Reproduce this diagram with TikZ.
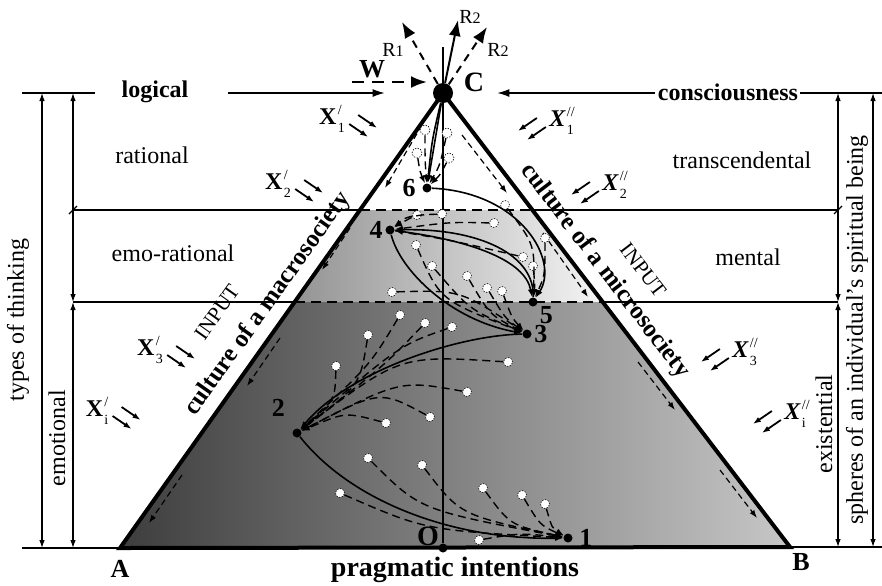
\documentclass[tikz,border=0pt]{standalone}
\usepackage{fontspec}
\setmainfont{Liberation Serif}
\usetikzlibrary{arrows.meta,positioning}

\newcommand{\xidx}[2]{\kern0.6pt\raisebox{-4pt}{\fontsize{7}{7}\selectfont\shortstack[l]{#1\\[1.5pt]#2}}}

\tikzset{
  zone/.style={font=\fontsize{12}{14}\selectfont},
  head/.style={font=\fontsize{12}{14}\selectfont\bfseries},
  num/.style={font=\fontsize{13}{14}\selectfont\bfseries,inner sep=1pt},
  thinline/.style={line width=0.6pt},
  dimline/.style={line width=0.6pt,<->},
  bandline/.style={line width=1pt,dash pattern=on 5pt off 3pt},
  edgeline/.style={line width=2pt},
  route/.style={line width=0.8pt,->},
  fan/.style={line width=0.7pt,dash pattern=on 4pt off 2.5pt,->},
  sidearr/.style={line width=0.6pt,dash pattern=on 3pt off 2pt,->},
  xarr/.style={line width=0.9pt,->},
  toparr/.style={line width=1.2pt,-{Latex[length=8pt,width=6pt]}},
  bdot/.style={circle,fill=black,inner sep=0pt,minimum size=4.5pt},
  wdot/.style={circle,fill=white,draw=black,line width=0.3pt,dash pattern=on 0.7pt off 0.7pt,inner sep=0pt,minimum size=4.5pt},
  xlab/.style={font=\fontsize{12}{14}\selectfont,inner sep=0pt},
}

\begin{document}
\begin{tikzpicture}[x=0.5pt,y=-0.5pt,>={Latex[length=4pt,width=2.8pt]}]
\useasboundingbox (0,0) rectangle (882,585);
% corners of the triangle
\coordinate (A) at (120,548);
\coordinate (B) at (790,547);
\coordinate (Ct) at (443,93);

% shaded levels
\shade[left color=black!42,right color=black!4] (360,210) -- (533,210) -- (603,302) -- (295,302) -- cycle;
\shade[left color=black!76,middle color=black!62,right color=black!22] (295,302) -- (603,302) -- (B) -- (A) -- cycle;

% level lines
\draw[thinline] (22,93) -- (95,93) (800,93) -- (882,93);
\draw[thinline] (73,210) -- (360,210) (533,210) -- (838,210);
\draw[thinline] (73,302) -- (295,302) (603,302) -- (838,302);
\draw[thinline] (22,548) -- (A) (B) -- (882,547);
\draw[bandline] (360,210) -- (533,210) (295,302) -- (603,302);
\draw[thinline] (69,214) -- (77,206) (834,214) -- (842,206);

% scales
\draw[dimline] (42,93) -- (42,548);
\draw[dimline] (73,93) -- (73,302);
\draw[dimline] (73,302) -- (73,548);
\draw[dimline] (838,93) -- (838,302);
\draw[dimline] (838,302) -- (838,547);
\draw[dimline] (873,93) -- (873,547);

\node[zone,rotate=90] (thinking) at (18,320) {types of thinking};
\node[zone,rotate=90] (emot) at (57,438) {emotional};
\node[zone] (rat) at (152,155) {rational};
\node[zone] (emorat) at (173,253) {emo-rational};
\node[zone] (transc) at (742,160) {transcendental};
\node[zone] (ment) at (748,257) {mental};
\node[zone,rotate=90] (exist) at (824,424) {existential};
\node[zone,rotate=90] (spheres) at (857,330) {spheres of an individual’s spiritual being};
\node[head] (logical) at (155,92) {logical};
\node[head] (consc) at (728,92) {consciousness};
\node[head,font=\fontsize{14}{16}\selectfont\bfseries] (pragm) at (455,570) {pragmatic intentions};

% axis
\node[bdot] (O) at (443,548) {};
\node[num,font=\fontsize{14}{16}\selectfont\bfseries] (Olab) at (428,536) {O};
\draw[thinline] (443,47) -- (O);

% triangle
\draw[edgeline] (A) -- (Ct) -- (B) -- cycle;
\node[circle,fill=black,minimum size=10pt,inner sep=0pt] (C) at (Ct) {};
\node[num,font=\fontsize{14}{16}\selectfont\bfseries] (Clab) at (474,82) {C};
\node[num] (Alab) at (120,569) {A};
\node[num] (Blab) at (801,562) {B};

\path (A) -- node[sloped,above=1pt,pos=0.51,font=\fontsize{12.5}{14}\selectfont\bfseries] (macro) {culture of a macrosociety} (Ct);
\path (Ct) -- node[sloped,above=1pt,pos=0.42,font=\fontsize{12.5}{14}\selectfont\bfseries] (micro) {culture of a microsociety} (B);
\node[font=\fontsize{10.5}{12}\selectfont,rotate=54.6] (inl) at (217,312) {INPUT};
\node[font=\fontsize{10.5}{12}\selectfont,rotate=-52.5] (inr) at (643,270) {INPUT};

% inputs at the top
\draw[thinline,-{Latex[length=6pt,width=4pt]}] (228,93) -- ([xshift=-24pt]C.west);
\draw[thinline,-{Latex[length=6pt,width=4pt]}] (655,93) -- ([xshift=22pt]C.east);
\coordinate (w0) at (352,82);
\coordinate (w1) at (427,82);
\draw[toparr,dash pattern=on 6pt off 4pt] (w0) -- (w1);
\node[num,font=\fontsize{13}{14}\selectfont\bfseries] (wlab) at (372,69) {W};
\coordinate (r1) at (402,22);
\coordinate (r2) at (458,20);
\coordinate (r3) at (487,27);
\draw[toparr,line width=1pt,dash pattern=on 4pt off 3pt] (C) -- (r1);
\draw[toparr,line width=1pt] (C) -- (r2);
\draw[toparr,line width=1pt,dash pattern=on 4pt off 3pt] (C) -- (r3);
\node[font=\fontsize{10}{12}\selectfont] (r1lab) at (393,50) {R{\fontsize{8}{9}\selectfont 1}};
\node[font=\fontsize{10}{12}\selectfont] (r2lab) at (470,17) {R{\fontsize{8}{9}\selectfont 2}};
\node[font=\fontsize{10}{12}\selectfont] (r3lab) at (498,50) {R{\fontsize{8}{9}\selectfont 2}};

% outside influences
\foreach \s/\px/\py in {1/332/119, 2/278/184, 3/150/350, i/97/411}{
  \node[xlab] (xa\s) at (\px,\py) {\textbf{X}\xidx{/}{\s}};
  \draw[xarr] ([shift={(13,-4)}]xa\s.east) -- ++(19,13);
  \draw[xarr] ([shift={(4,5)}]xa\s.east) -- ++(19,13);
}
\foreach \s/\px/\py in {1/562/121, 2/615/185, 3/745/352, i/797/414}{
  \node[xlab] (xb\s) at (\px,\py) {\textbf{\textit{X}}\xidx{//}{\s}};
  \draw[xarr] ([shift={(-12,-3)}]xb\s.west) -- ++(-19,13);
  \draw[xarr] ([shift={(-3,6)}]xb\s.west) -- ++(-19,13);
}

% flows along the sides
\draw[sidearr] (422,125) -- (385,188);
\draw[sidearr] (350,228) -- (322,270);
\draw[sidearr] (280,338) -- (247,386);
\draw[sidearr] (182,475) -- (149,523);
\draw[sidearr] (462,135) -- (507,193);
\draw[sidearr] (543,233) -- (588,297);
\draw[sidearr] (638,362) -- (675,410);
\draw[sidearr] (720,470) -- (757,518);

% states
\node[bdot,label={[num,label distance=2pt]right:1}] (n1) at (568,538) {};
\node[bdot,label={[num,label distance=6pt]125:2}] (n2) at (297,433) {};
\node[bdot,label={[num]right:3}] (n3) at (527,334) {};
\node[bdot,label={[num]left:4}] (n4) at (390,230) {};
\node[bdot,label={[num]-25:5}] (n5) at (533,302) {};
\node[bdot,label={[num,label distance=2pt]left:6}] (n6) at (427,188) {};

% side paths
\foreach \m/\px/\py/\cx/\cy in {1/340/493/425/530, 2/368/458/420/510, 3/422/465/460/515, 4/483/488/510/525, 5/522/495/540/525, 6/545/504/552/528, 7/479/540/520/533}{
  \node[wdot] (pa\m) at (\px,\py) {};
  \draw[fan] (pa\m) .. controls (\cx,\cy) .. (n1);
}
\foreach \m/\px/\py/\cx/\cy in {1/400/315/370/365, 2/425/323/385/365, 3/452/327/400/345, 4/368/335/360/385, 5/336/366/335/400, 6/508/362/400/355, 7/467/392/400/380, 8/430/417/380/390, 9/386/423/345/412}{
  \node[wdot] (pb\m) at (\px,\py) {};
  \draw[fan] (pb\m) .. controls (\cx,\cy) .. (n2);
}
\foreach \m/\px/\py/\cx/\cy in {1/416/245/440/300, 2/432/266/470/310, 3/467/276/490/315, 4/487/288/505/318, 5/502/291/512/318, 6/392/292/460/290}{
  \node[wdot] (pc\m) at (\px,\py) {};
  \draw[fan] (pc\m) .. controls (\cx,\cy) .. (n3);
}
\foreach \m/\px/\py/\cx/\cy in {1/417/215/405/218, 2/442/214/415/215, 3/494/223/450/222, 4/523/257/450/240}{
  \node[wdot] (pd\m) at (\px,\py) {};
  \draw[fan] (pd\m) .. controls (\cx,\cy) .. (n4);
}
\foreach \m/\px/\py/\cx/\cy in {1/533/266/535/285, 2/545/238/545/275, 3/505/205/535/245}{
  \node[wdot] (pe\m) at (\px,\py) {};
  \draw[fan] (pe\m) .. controls (\cx,\cy) .. (n5);
}
\foreach \m/\px/\py/\cx/\cy in {1/425/130/425/160, 2/447/133/440/165, 3/417/153/420/172, 4/449/158/440/175}{
  \node[wdot,minimum size=5pt] (pf\m) at (\px,\py) {};
  \draw[fan] (pf\m) .. controls (\cx,\cy) .. (n6);
}

% main route
\draw[route] (C) -- (n6);
\draw[route] (C) .. controls (432,140) .. (n6);
\draw[route] (n6) .. controls (520,192) and (560,260) .. (n5);
\draw[route] (n5) .. controls (535,255) and (480,228) .. (n4);
\draw[route] (n4) .. controls (470,240) and (525,260) .. (n5);
\draw[route] (n4) .. controls (400,270) and (450,320) .. (n3);
\draw[route] (n3) .. controls (460,335) and (350,370) .. (n2);
\draw[route] (n2) .. controls (350,500) and (450,540) .. (n1);
\end{tikzpicture}
\end{document}
